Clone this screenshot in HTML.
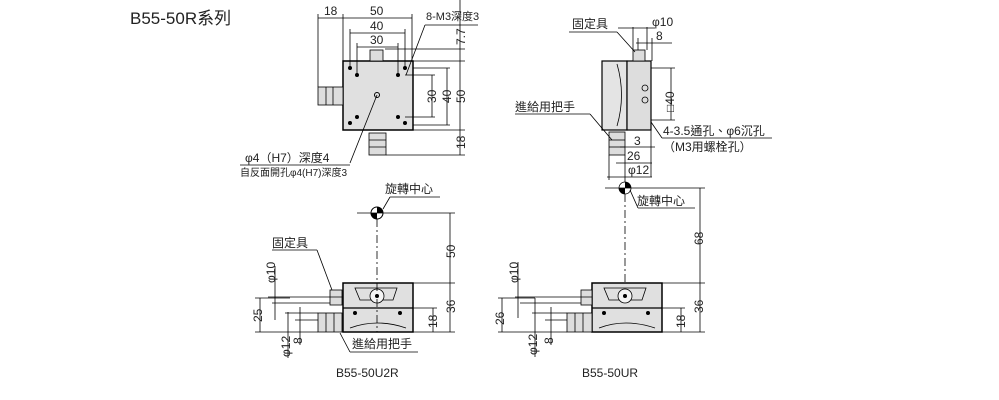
<!DOCTYPE html>
<html><head><meta charset="utf-8"><style>
html,body{margin:0;padding:0;background:#fff;}
svg{display:block;font-family:"Liberation Sans","Noto Sans CJK TC",sans-serif;}
</style></head><body>
<svg width="999" height="400" viewBox="0 0 999 400" xmlns="http://www.w3.org/2000/svg">
<defs>
<marker id="a" markerWidth="6" markerHeight="6" refX="5" refY="3" orient="auto"><path d="M0,1 L5,3 L0,5 z" fill="#000"/></marker>
<marker id="b" markerWidth="6" markerHeight="6" refX="1" refY="3" orient="auto"><path d="M6,1 L1,3 L6,5 z" fill="#000"/></marker>
</defs>
<text x="130" y="24" font-size="17" fill="#222">B55-50R系列</text>

<!-- TOP VIEW -->
<g stroke="#000" stroke-width="0.8" fill="none">
<rect x="343" y="61" width="70" height="69" fill="#e0e0e0" stroke-width="1.5"/>
<rect x="370" y="50" width="13" height="11" fill="#ddd"/>
<rect x="318" y="87" width="25" height="18" fill="#ddd"/>
<line x1="326" y1="87" x2="326" y2="105"/><line x1="333" y1="87" x2="333" y2="105"/>
<rect x="369" y="133" width="17" height="22" fill="#ddd"/>
<line x1="369" y1="140" x2="386" y2="140"/><line x1="369" y1="147" x2="386" y2="147"/>
<line x1="318" y1="18" x2="412" y2="18"/>
<line x1="318" y1="14" x2="318" y2="87"/><line x1="343" y1="14" x2="343" y2="61"/><line x1="412" y1="14" x2="412" y2="61"/>
<line x1="350" y1="33" x2="405" y2="33"/><line x1="350" y1="29" x2="350" y2="70"/><line x1="405" y1="29" x2="405" y2="70"/>
<line x1="357" y1="47" x2="398" y2="47"/><line x1="357" y1="43" x2="357" y2="75"/><line x1="398" y1="43" x2="398" y2="75"/>
<line x1="385" y1="49" x2="465" y2="49"/><line x1="413" y1="61" x2="465" y2="61"/><line x1="413" y1="130" x2="465" y2="130"/><line x1="386" y1="155" x2="465" y2="155"/>
<line x1="460" y1="0" x2="460" y2="155"/>
<line x1="413" y1="68" x2="450" y2="68"/><line x1="413" y1="125" x2="450" y2="125"/>
<line x1="447" y1="68" x2="447" y2="125"/>
<line x1="405" y1="75" x2="435" y2="75"/><line x1="405" y1="117" x2="435" y2="117"/>
<line x1="432" y1="75" x2="432" y2="117"/>
<line x1="406" y1="75" x2="425" y2="25"/><line x1="425" y1="25" x2="478" y2="25"/>
<line x1="377" y1="95" x2="350" y2="163"/><line x1="240" y1="165" x2="350" y2="165"/>
</g>
<g fill="#000">
<circle cx="350" cy="68" r="2"/><circle cx="357" cy="75" r="2"/><circle cx="405" cy="68" r="2"/><circle cx="398" cy="75" r="2"/>
<circle cx="350" cy="123" r="2"/><circle cx="357" cy="117" r="2"/><circle cx="405" cy="123" r="2"/><circle cx="398" cy="117" r="2"/>
<circle cx="377" cy="95" r="2.5" fill="none" stroke="#000"/>
</g>
<g font-size="12" fill="#222">
<text x="324" y="15">18</text><text x="370" y="15">50</text><text x="370" y="30">40</text><text x="370" y="44">30</text>
<text x="426" y="20" font-size="11">8-M3深度3</text>
<text transform="translate(465,45) rotate(-90)">7.7</text>
<text transform="translate(436,103) rotate(-90)">30</text>
<text transform="translate(451,103) rotate(-90)">40</text>
<text transform="translate(465,103) rotate(-90)">50</text>
<text transform="translate(465,149) rotate(-90)">18</text>
<text x="245" y="162">φ4（H7）深度4</text>
<text x="240" y="176" font-size="10">自反面開孔φ4(H7)深度3</text>
</g>

<!-- SIDE VIEW -->
<g stroke="#000" stroke-width="0.8" fill="none">
<rect x="602" y="61" width="25" height="69" fill="#e4e4e4" stroke-width="1.2"/>
<rect x="627" y="61" width="24" height="69" fill="#ddd" stroke-width="1.2"/>
<path d="M617,64 Q626,95 617,126"/>
<rect x="633" y="50" width="12" height="11" fill="#ddd"/>
<rect x="609" y="132" width="16" height="23" fill="#ddd"/>
<line x1="609" y1="140" x2="625" y2="140"/><line x1="609" y1="147" x2="625" y2="147"/>
<circle cx="645" cy="88" r="3"/><circle cx="645" cy="100" r="3"/>
<line x1="618" y1="28" x2="655" y2="28"/><line x1="569" y1="32" x2="617" y2="32"/><line x1="617" y1="32" x2="635" y2="52"/>
<line x1="633" y1="27" x2="633" y2="50"/><line x1="647" y1="27" x2="647" y2="50"/>
<line x1="636" y1="43" x2="672" y2="43"/><line x1="638" y1="38" x2="638" y2="50"/><line x1="652" y1="38" x2="652" y2="61"/>
<line x1="651" y1="68" x2="675" y2="68"/><line x1="651" y1="120" x2="675" y2="120"/><line x1="671" y1="68" x2="671" y2="120"/>
<line x1="651" y1="122" x2="662" y2="138"/><line x1="662" y1="138" x2="772" y2="138"/>
<line x1="515" y1="114" x2="590" y2="114"/><line x1="590" y1="114" x2="612" y2="140"/>
<line x1="620" y1="147" x2="655" y2="147"/><line x1="616" y1="163" x2="652" y2="163"/><line x1="607" y1="177" x2="652" y2="177"/>
<line x1="651" y1="130" x2="651" y2="177"/><line x1="625" y1="155" x2="625" y2="182"/><line x1="609" y1="155" x2="609" y2="180"/>
<circle cx="625" cy="188" r="6" fill="#fff"/>
<line x1="630" y1="190" x2="638" y2="208"/><line x1="638" y1="208" x2="695" y2="208"/>
<line x1="605" y1="188" x2="705" y2="188"/>
<line x1="700" y1="188" x2="700" y2="332"/>
<line x1="625" y1="194" x2="625" y2="332" stroke-dasharray="8,3,2,3"/>
</g>
<path d="M625,188 L625,182 A6,6 0 0 1 631,188 Z M625,188 L625,194 A6,6 0 0 1 619,188 Z" fill="#000"/>
<g font-size="12" fill="#222">
<text x="572" y="28">固定具</text><text x="652" y="26">φ10</text><text x="656" y="40">8</text>
<text transform="translate(674,112) rotate(-90)">□40</text>
<text x="663" y="135">4-3.5通孔、φ6沉孔</text>
<text x="663" y="151">（M3用螺栓孔）</text>
<text x="634" y="145">3</text><text x="627" y="160">26</text><text x="628" y="174">φ12</text>
<text x="515" y="111">進給用把手</text>
<text x="637" y="205">旋轉中心</text>
</g>

<!-- BOTTOM LEFT -->
<g stroke="#000" stroke-width="0.8" fill="none">
<rect x="343" y="283" width="70" height="49" fill="#e0e0e0" stroke-width="1.5"/>
<line x1="343" y1="308" x2="413" y2="308" stroke-width="1.2"/>
<path d="M355,288 L397,288 L393,300 L360,300 Z"/>
<circle cx="377" cy="296" r="7" fill="#f4f4f4"/>
<path d="M350,328 Q377,318 406,328"/>
<rect x="330" y="290" width="12" height="15" fill="#ddd"/>
<rect x="318" y="313" width="24" height="19" fill="#ddd"/>
<line x1="326" y1="313" x2="326" y2="332"/><line x1="334" y1="313" x2="334" y2="332"/>
<line x1="377" y1="219" x2="377" y2="332" stroke-dasharray="8,3,2,3"/>
<line x1="357" y1="213" x2="455" y2="213"/>
<line x1="413" y1="283" x2="455" y2="283"/><line x1="413" y1="332" x2="455" y2="332"/>
<line x1="450" y1="213" x2="450" y2="332"/>
<line x1="413" y1="308" x2="437" y2="308"/><line x1="433" y1="308" x2="433" y2="332"/>
<line x1="383" y1="209" x2="390" y2="197"/><line x1="390" y1="197" x2="440" y2="197"/>
<line x1="268" y1="297" x2="343" y2="297"/><line x1="272" y1="303" x2="330" y2="303"/>
<line x1="275" y1="266" x2="275" y2="320"/>
<line x1="255" y1="298" x2="290" y2="298"/><line x1="260" y1="298" x2="260" y2="332"/>
<line x1="255" y1="332" x2="318" y2="332"/>
<line x1="288" y1="312" x2="288" y2="358"/><line x1="300" y1="307" x2="300" y2="345"/>
<line x1="285" y1="313" x2="318" y2="313"/><line x1="295" y1="320" x2="318" y2="320"/>
<line x1="272" y1="250" x2="317" y2="250"/><line x1="317" y1="250" x2="332" y2="290"/>
<line x1="340" y1="333" x2="350" y2="352"/><line x1="350" y1="352" x2="418" y2="352"/>
</g>
<path d="M377,213 L377,207 A6,6 0 0 1 383,213 Z M377,213 L377,219 A6,6 0 0 1 371,213 Z" fill="#000"/>
<circle cx="377" cy="213" r="6" fill="none" stroke="#000"/>
<circle cx="377" cy="296" r="2" fill="#000"/>
<circle cx="355" cy="313" r="2" fill="#000"/><circle cx="400" cy="313" r="2" fill="#000"/>
<g font-size="12" fill="#222">
<text x="385" y="193">旋轉中心</text>
<text x="272" y="247">固定具</text>
<text transform="translate(455,258) rotate(-90)">50</text>
<text transform="translate(455,313) rotate(-90)">36</text>
<text transform="translate(437,328) rotate(-90)">18</text>
<text transform="translate(262,322) rotate(-90)">25</text>
<text transform="translate(275,283) rotate(-90)">φ10</text>
<text transform="translate(290,357) rotate(-90)">φ12</text>
<text transform="translate(302,344) rotate(-90)">8</text>
<text x="352" y="348">進給用把手</text>
<text x="336" y="377">B55-50U2R</text>
</g>

<!-- BOTTOM RIGHT -->
<g stroke="#000" stroke-width="0.8" fill="none">
<rect x="592" y="283" width="70" height="49" fill="#e0e0e0" stroke-width="1.5"/>
<line x1="592" y1="308" x2="662" y2="308" stroke-width="1.2"/>
<path d="M604,288 L646,288 L642,300 L609,300 Z"/>
<circle cx="625" cy="296" r="7" fill="#f4f4f4"/>
<path d="M599,328 Q625,318 655,328"/>
<rect x="581" y="290" width="11" height="15" fill="#ddd"/>
<rect x="567" y="313" width="25" height="19" fill="#ddd"/>
<line x1="575" y1="313" x2="575" y2="332"/><line x1="583" y1="313" x2="583" y2="332"/>
<line x1="662" y1="283" x2="705" y2="283"/><line x1="662" y1="332" x2="705" y2="332"/>
<line x1="662" y1="308" x2="685" y2="308"/><line x1="681" y1="308" x2="681" y2="332"/>
<line x1="515" y1="297" x2="592" y2="297"/><line x1="520" y1="303" x2="581" y2="303"/>
<line x1="518" y1="262" x2="518" y2="318"/>
<line x1="498" y1="298" x2="535" y2="298"/><line x1="502" y1="298" x2="502" y2="332"/>
<line x1="498" y1="332" x2="567" y2="332"/>
<line x1="535" y1="298" x2="535" y2="357"/><line x1="551" y1="307" x2="551" y2="345"/>
<line x1="532" y1="313" x2="567" y2="313"/><line x1="545" y1="320" x2="567" y2="320"/>
</g>
<circle cx="625" cy="296" r="2" fill="#000"/>
<circle cx="604" cy="313" r="2" fill="#000"/><circle cx="648" cy="313" r="2" fill="#000"/>
<g font-size="12" fill="#222">
<text transform="translate(703,245) rotate(-90)">68</text>
<text transform="translate(703,313) rotate(-90)">36</text>
<text transform="translate(685,328) rotate(-90)">18</text>
<text transform="translate(504,325) rotate(-90)">26</text>
<text transform="translate(518,283) rotate(-90)">φ10</text>
<text transform="translate(537,355) rotate(-90)">φ12</text>
<text transform="translate(553,344) rotate(-90)">8</text>
<text x="582" y="377">B55-50UR</text>
</g>
</svg>
</body></html>
